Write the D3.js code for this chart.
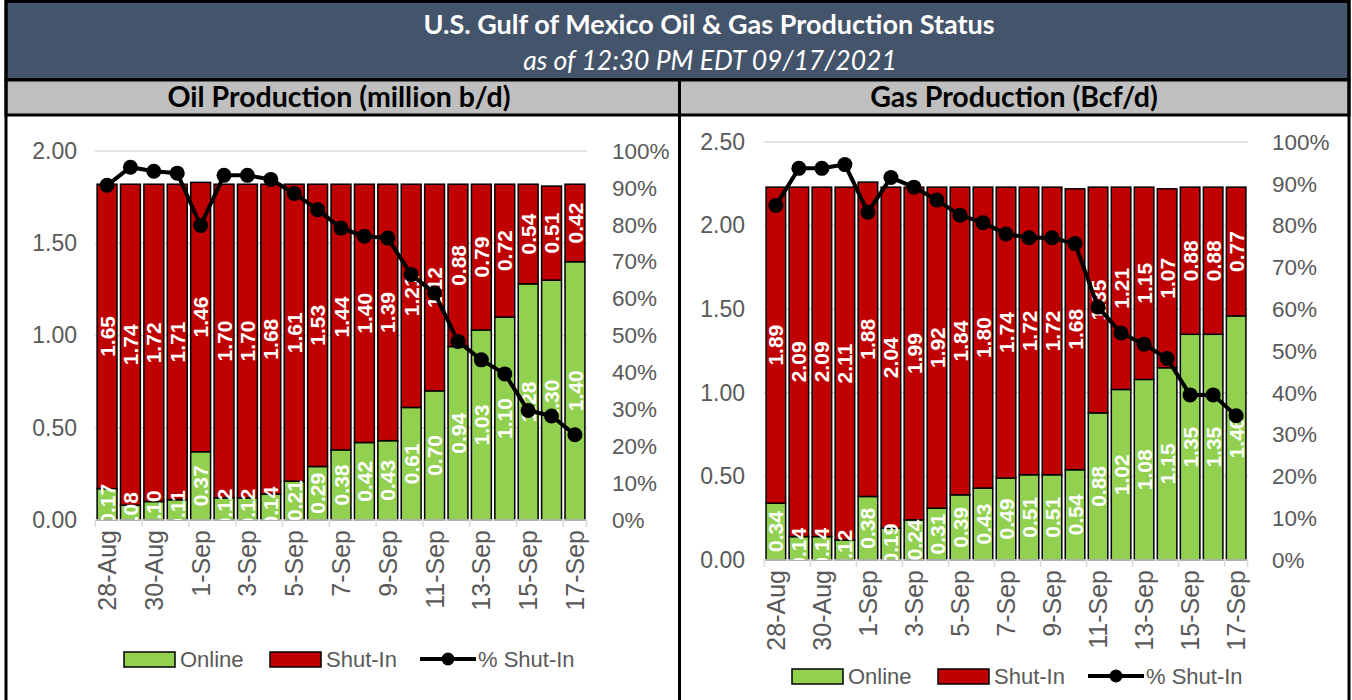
<!DOCTYPE html>
<html>
<head>
<meta charset="utf-8">
<script src="https://cdn.jsdelivr.net/npm/d3@7"></script>
<style>
  body { margin: 0; background: #fff; }
  svg { display: block; }
</style>
</head>
<body>
<div class="chart"></div>
<script>
var svgWidth = 1352;
var svgHeight = 700;

// dates shown on the x axis
var dates = ["28-Aug", "29-Aug", "30-Aug", "31-Aug", "1-Sep", "2-Sep", "3-Sep", "4-Sep",
  "5-Sep", "6-Sep", "7-Sep", "8-Sep", "9-Sep", "10-Sep", "11-Sep", "12-Sep", "13-Sep",
  "14-Sep", "15-Sep", "16-Sep", "17-Sep"];

// oil, million b/d
var oilOnline = [0.17, 0.08, 0.10, 0.11, 0.37, 0.12, 0.12, 0.14, 0.21, 0.29, 0.38,
  0.42, 0.43, 0.61, 0.70, 0.94, 1.03, 1.10, 1.28, 1.30, 1.40];
var oilShutIn = [1.65, 1.74, 1.72, 1.71, 1.46, 1.70, 1.70, 1.68, 1.61, 1.53, 1.44,
  1.40, 1.39, 1.21, 1.12, 0.88, 0.79, 0.72, 0.54, 0.51, 0.42];
var oilPct = [90.7, 95.6, 94.5, 94.0, 79.8, 93.4, 93.4, 92.3, 88.5, 84.1, 79.1,
  76.9, 76.4, 66.5, 61.5, 48.4, 43.4, 39.6, 29.7, 28.2, 23.1];

// gas, Bcf/d
var gasOnline = [0.34, 0.14, 0.14, 0.12, 0.38, 0.19, 0.24, 0.31, 0.39, 0.43, 0.49,
  0.51, 0.51, 0.54, 0.88, 1.02, 1.08, 1.15, 1.35, 1.35, 1.46];
var gasShutIn = [1.89, 2.09, 2.09, 2.11, 1.88, 2.04, 1.99, 1.92, 1.84, 1.80, 1.74,
  1.72, 1.72, 1.68, 1.35, 1.21, 1.15, 1.07, 0.88, 0.88, 0.77];
var gasPct = [84.8, 93.7, 93.7, 94.6, 83.2, 91.5, 89.2, 86.1, 82.5, 80.7, 78.0,
  77.1, 77.1, 75.7, 60.5, 54.3, 51.6, 48.2, 39.5, 39.5, 34.5];

var oilTicks = [0, 0.5, 1.0, 1.5, 2.0];
var gasTicks = [0, 0.5, 1.0, 1.5, 2.0, 2.5];
var pctTicks = [0, 10, 20, 30, 40, 50, 60, 70, 80, 90, 100];
var legendLabels = ["Online", "Shut-In", "% Shut-In"];

var green = "#92D050";
var red = "#C00000";
var grey = "#595959";

var svg = d3.select(".chart")
  .append("svg")
  .attr("width", svgWidth)
  .attr("height", svgHeight);

// header bands
svg.append("rect").attr("x", 6).attr("y", 1.5).attr("width", 1343).attr("height", 78)
  .attr("fill", "#44546A").attr("stroke", "#000").attr("stroke-width", 3);
svg.append("rect").attr("x", 6).attr("y", 80).attr("width", 1343).attr("height", 35)
  .attr("fill", "#BFBFBF").attr("stroke", "#000").attr("stroke-width", 3);
// outer frame and middle divider
svg.append("line").attr("x1", 6).attr("x2", 6).attr("y1", 0).attr("y2", 700)
  .attr("stroke", "#000").attr("stroke-width", 3);
svg.append("line").attr("x1", 1349).attr("x2", 1349).attr("y1", 0).attr("y2", 700)
  .attr("stroke", "#000").attr("stroke-width", 3);
svg.append("line").attr("x1", 679.5).attr("x2", 679.5).attr("y1", 80).attr("y2", 700)
  .attr("stroke", "#000").attr("stroke-width", 3);

var headFont = "Lato, 'Open Sans', sans-serif";

svg.append("text")
  .attr("x", 709).attr("y", 34)
  .attr("text-anchor", "middle")
  .attr("font-family", headFont)
  .attr("font-weight", "bold")
  .attr("font-size", "27px")
  .attr("fill", "#fff")
  .text("U.S. Gulf of Mexico Oil & Gas Production Status");

svg.append("text")
  .attr("x", 710).attr("y", 70)
  .attr("text-anchor", "middle")
  .attr("font-family", headFont)
  .attr("font-style", "italic")
  .attr("font-size", "26.5px")
  .attr("fill", "#fff")
  .text("as of 12:30 PM EDT 09/17/2021");

svg.append("text")
  .attr("x", 339).attr("y", 107)
  .attr("text-anchor", "middle")
  .attr("font-family", headFont)
  .attr("font-weight", "bold")
  .attr("font-size", "28.5px")
  .attr("fill", "#000")
  .text("Oil Production (million b/d)");

svg.append("text")
  .attr("x", 1014).attr("y", 107)
  .attr("text-anchor", "middle")
  .attr("font-family", headFont)
  .attr("font-weight", "bold")
  .attr("font-size", "28.5px")
  .attr("fill", "#000")
  .text("Gas Production (Bcf/d)");

function drawPanel(p) {
  var g = svg.append("g");
  var data = dates.map(function(d, i) {
    return { date: d, online: p.online[i], shut: p.shut[i], pct: p.pct[i] };
  });

  var x = d3.scaleBand()
    .domain(dates)
    .range([p.left, p.right])
    .paddingInner(0.15)
    .paddingOuter(0.09);

  var y = d3.scaleLinear().domain([0, p.yMax]).range([p.bottom, p.top]);
  var y2 = d3.scaleLinear().domain([0, 100]).range([p.bottom, p.top]);

  // gridlines
  g.selectAll(".grid")
    .data(p.ticks.slice(1))
    .enter()
    .append("line")
    .attr("x1", p.left).attr("x2", p.right)
    .attr("y1", d => y(d)).attr("y2", d => y(d))
    .attr("stroke", "#D9D9D9").attr("stroke-width", 1.5);

  // left axis
  var leftAxis = d3.axisLeft(y).tickValues(p.ticks).tickFormat(d3.format(".2f"))
    .tickSize(0).tickPadding(p.leftPad);
  var la = g.append("g").attr("transform", `translate(${p.left}, 0)`).call(leftAxis);
  la.select(".domain").remove();
  la.selectAll("text").attr("font-family", "'Liberation Sans', Arial, sans-serif")
    .attr("font-size", "23px").attr("fill", grey);

  // right axis
  var rightAxis = d3.axisRight(y2).tickValues(pctTicks).tickFormat(d => d + "%")
    .tickSize(0).tickPadding(p.rightPad);
  var ra = g.append("g").attr("transform", `translate(${p.right}, 0)`).call(rightAxis);
  ra.select(".domain").remove();
  ra.selectAll("text").attr("font-family", "'Liberation Sans', Arial, sans-serif")
    .attr("font-size", "22.5px").attr("fill", grey);

  // stacked bars
  var bw = x.bandwidth();
  g.selectAll(".online")
    .data(data)
    .enter()
    .append("rect")
    .attr("x", d => x(d.date))
    .attr("y", d => y(d.online))
    .attr("width", bw)
    .attr("height", d => y(0) - y(d.online))
    .attr("fill", green)
    .attr("stroke", "#000")
    .attr("stroke-width", 1.5);

  g.selectAll(".shut")
    .data(data)
    .enter()
    .append("rect")
    .attr("x", d => x(d.date))
    .attr("y", d => y(d.online + d.shut))
    .attr("width", bw)
    .attr("height", d => y(d.online) - y(d.online + d.shut))
    .attr("fill", red)
    .attr("stroke", "#000")
    .attr("stroke-width", 1.5);

  // x axis baseline and ticks
  g.append("line")
    .attr("x1", p.left).attr("x2", p.right)
    .attr("y1", p.bottom).attr("y2", p.bottom)
    .attr("stroke", "#D9D9D9").attr("stroke-width", 1.5);

  var step = x.step();
  var x0 = x(dates[0]) - step * x.paddingInner() / 2;
  var tickIdx = d3.range(0, dates.length + 1, 2).concat([dates.length]);
  g.selectAll(".xtick")
    .data(tickIdx)
    .enter()
    .append("line")
    .attr("x1", d => Math.min(x0 + d * step, p.right))
    .attr("x2", d => Math.min(x0 + d * step, p.right))
    .attr("y1", p.bottom).attr("y2", p.bottom + 7)
    .attr("stroke", "#D9D9D9").attr("stroke-width", 1.5);

  var bottomAxis = d3.axisBottom(x)
    .tickValues(dates.filter((d, i) => i % 2 === 0))
    .tickSize(0);
  var xa = g.append("g").attr("transform", `translate(0, ${p.bottom})`).call(bottomAxis);
  xa.select(".domain").remove();
  xa.selectAll("text")
    .attr("transform", "rotate(-90)")
    .attr("text-anchor", "end")
    .attr("x", -10)
    .attr("y", 0)
    .attr("dy", "0.36em")
    .attr("font-family", "'Liberation Sans', Arial, sans-serif")
    .attr("font-size", "25px")
    .attr("fill", grey);

  // value labels, clipped to the plot area
  g.append("clipPath").attr("id", "clip-" + p.id)
    .append("rect")
    .attr("x", p.left).attr("y", p.top - 40)
    .attr("width", p.right - p.left).attr("height", p.bottom - p.top + 40);

  var labels = g.append("g").attr("clip-path", `url(#clip-${p.id})`);
  function addLabels(key, mid) {
    labels.selectAll(".lab-" + key)
      .data(data)
      .enter()
      .append("text")
      .attr("transform", d => `translate(${x(d.date) + bw / 2}, ${y(mid(d))}) rotate(-90)`)
      .attr("text-anchor", "middle")
      .attr("dy", "0.36em")
      .attr("font-family", "'Liberation Sans', Arial, sans-serif")
      .attr("font-weight", "bold")
      .attr("font-size", "21px")
      .attr("fill", "#fff")
      .text(d => d[key].toFixed(2));
  }
  addLabels("online", d => d.online / 2);
  addLabels("shut", d => d.online + d.shut / 2);

  // % shut-in line
  var line = d3.line()
    .x(d => x(d.date) + bw / 2)
    .y(d => y2(d.pct));

  g.append("path")
    .datum(data)
    .attr("d", line)
    .attr("fill", "none")
    .attr("stroke", "#000")
    .attr("stroke-width", 4);

  g.selectAll(".dot")
    .data(data)
    .enter()
    .append("circle")
    .attr("cx", d => x(d.date) + bw / 2)
    .attr("cy", d => y2(d.pct))
    .attr("r", 7.5)
    .attr("fill", "#000");

  // legend
  var lg = g.append("g").attr("transform", `translate(${p.legendX}, ${p.legendY})`);
  lg.append("rect").attr("x", 0).attr("y", -7).attr("width", 51).attr("height", 15)
    .attr("fill", green).attr("stroke", "#000").attr("stroke-width", 1.5);
  lg.append("rect").attr("x", 146).attr("y", -7).attr("width", 51).attr("height", 15)
    .attr("fill", red).attr("stroke", "#000").attr("stroke-width", 1.5);
  lg.append("line").attr("x1", 296).attr("x2", 352).attr("y1", 0).attr("y2", 0)
    .attr("stroke", "#000").attr("stroke-width", 4);
  lg.append("circle").attr("cx", 324).attr("cy", 0).attr("r", 6.5).attr("fill", "#000");

  lg.selectAll(".legtext")
    .data(legendLabels)
    .enter()
    .append("text")
    .attr("x", (d, i) => [56, 202, 354][i])
    .attr("y", 0)
    .attr("dy", "0.36em")
    .attr("font-family", "'Liberation Sans', Arial, sans-serif")
    .attr("font-size", "22px")
    .attr("fill", grey)
    .text(d => d);
}

drawPanel({
  id: "oil", online: oilOnline, shut: oilShutIn, pct: oilPct,
  yMax: 2.0, ticks: oilTicks,
  left: 95, right: 587, top: 151, bottom: 520,
  leftPad: 18, rightPad: 25,
  legendX: 124, legendY: 659
});

drawPanel({
  id: "gas", online: gasOnline, shut: gasShutIn, pct: gasPct,
  yMax: 2.5, ticks: gasTicks,
  left: 764, right: 1248, top: 142, bottom: 560,
  leftPad: 19, rightPad: 24,
  legendX: 792, legendY: 676
});
</script>
</body>
</html>
